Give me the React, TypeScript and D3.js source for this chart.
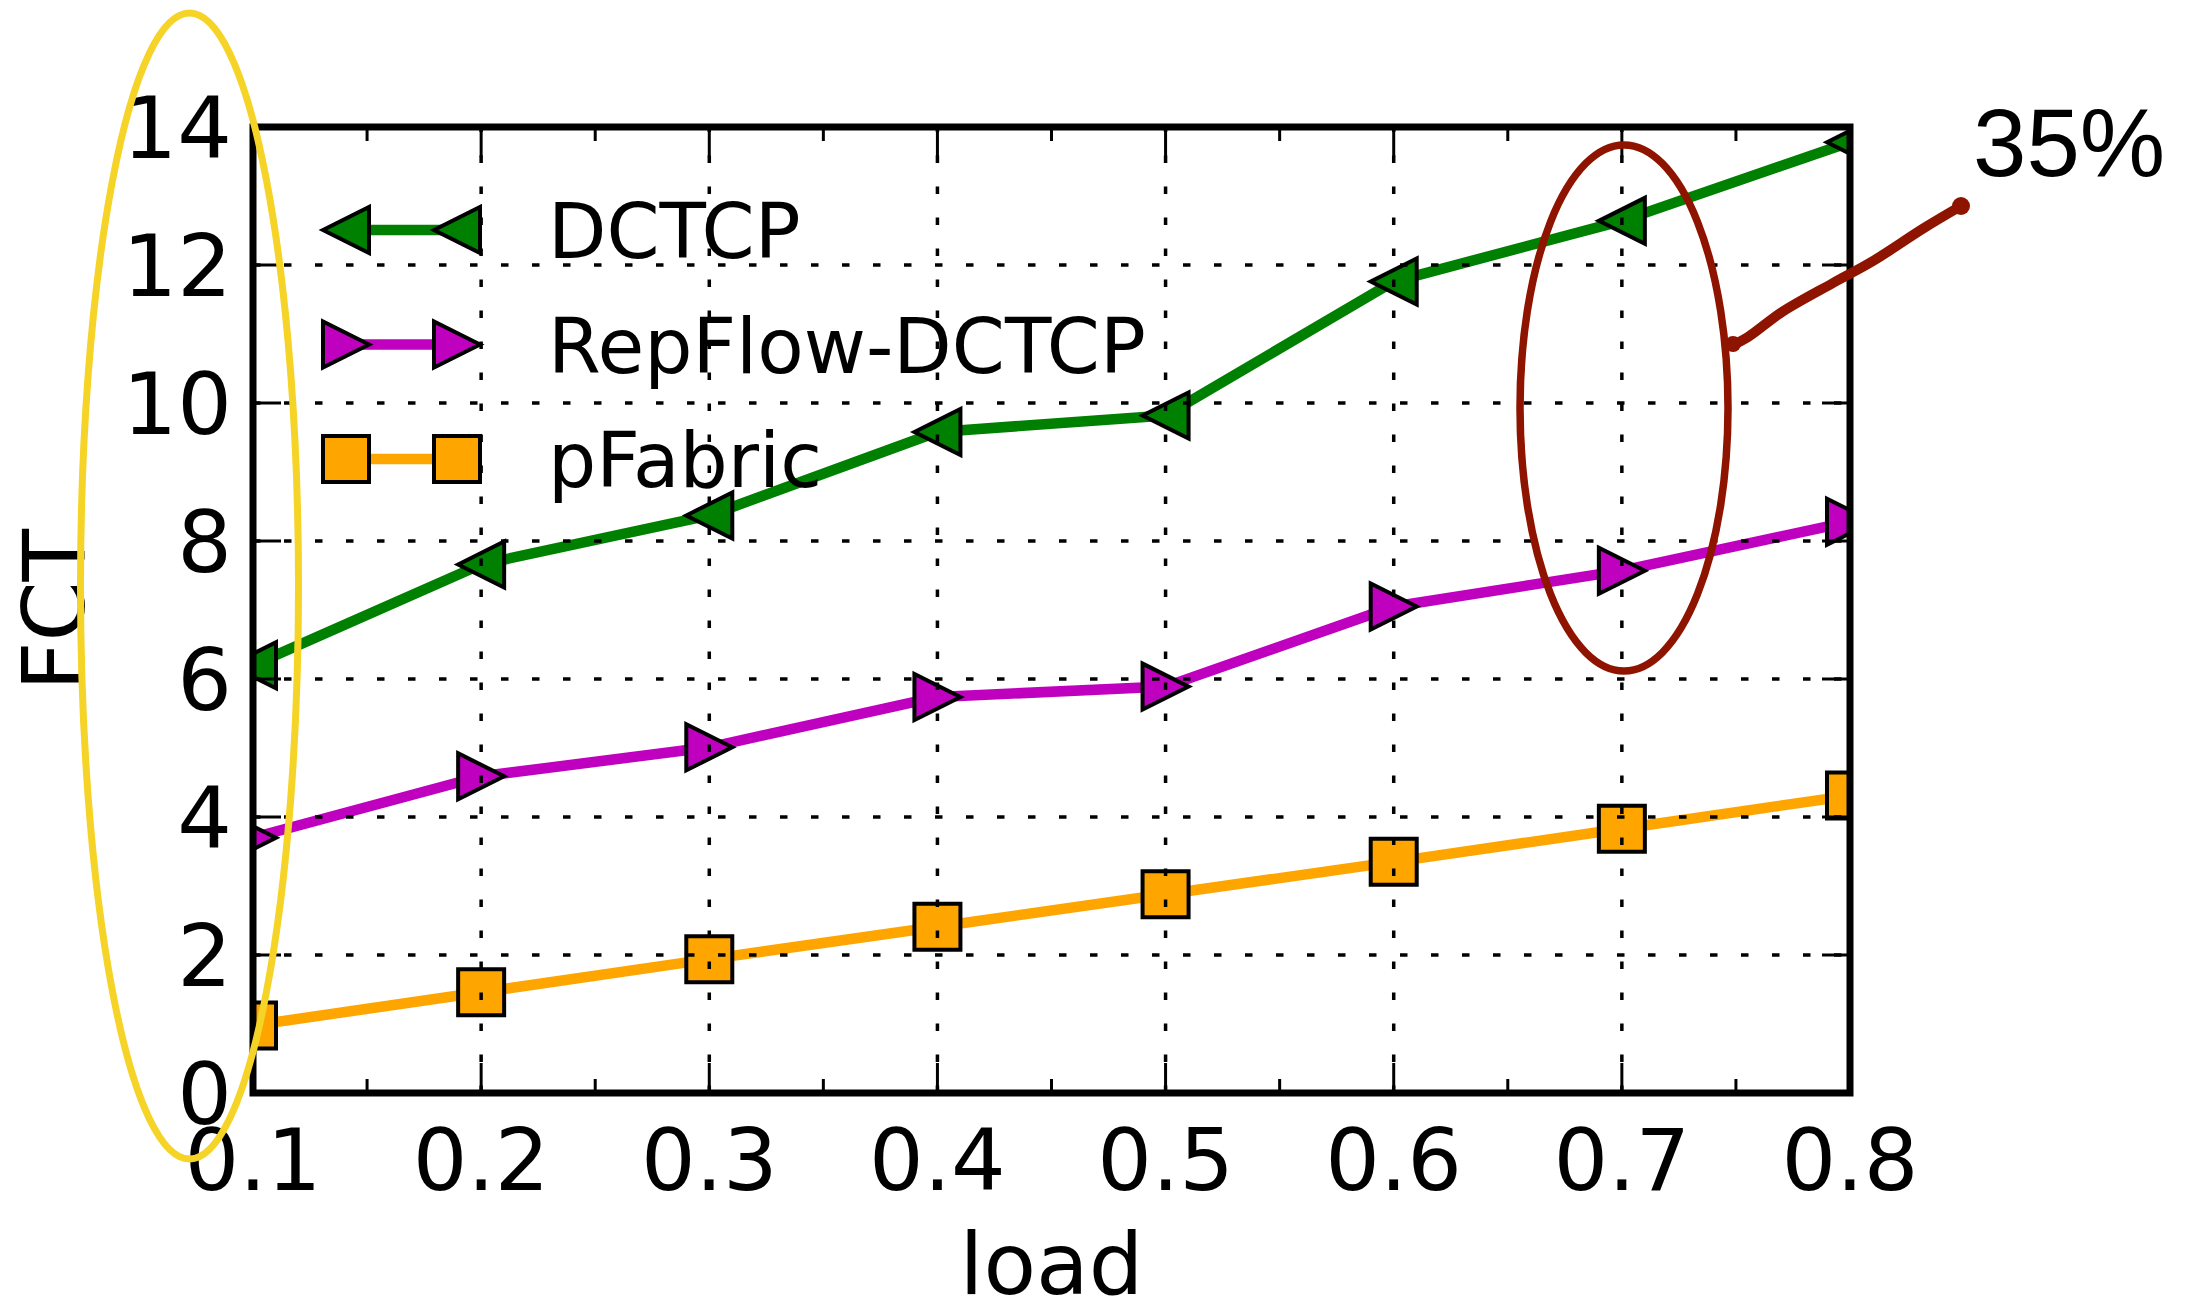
import React from 'react';
import * as d3 from 'd3';

// values
const loads = [0.1, 0.2, 0.3, 0.4, 0.5, 0.6, 0.7, 0.8];
const dctcp = [6.2, 7.66, 8.37, 9.58, 9.82, 11.76, 12.64, 13.78];
const repflowDctcp = [3.7, 4.59, 5.01, 5.74, 5.89, 7.05, 7.57, 8.28];
const pfabric = [0.98, 1.46, 1.94, 2.41, 2.88, 3.35, 3.83, 4.31];

const xTicks = [0.1, 0.2, 0.3, 0.4, 0.5, 0.6, 0.7, 0.8];
const xMinorTicks = [0.15, 0.25, 0.35, 0.45, 0.55, 0.65, 0.75];
const yTicks = [0, 2, 4, 6, 8, 10, 12, 14];

const seriesNames = ['DCTCP', 'RepFlow-DCTCP', 'pFabric'];
const seriesValues = [dctcp, repflowDctcp, pfabric];
const seriesColors = ['#008000', '#bf00bf', '#ffa500'];
const seriesMarkers = ['triLeft', 'triRight', 'square'];

const W = 2190;
const H = 1301;
const margin = { left: 253, right: W - 1850, top: 127, bottom: H - 1093 };
const font = 'DejaVu Sans, sans-serif';

const x = d3.scaleLinear().domain([0.1, 0.8]).range([margin.left, W - margin.right]);
const y = d3.scaleLinear().domain([0, 14]).range([H - margin.bottom, margin.top]);

const MS = 23; // half marker size

function markerPath(kind: string) {
  if (kind === 'triLeft') return `M${-MS},0L${MS},${-MS}L${MS},${MS}Z`;
  if (kind === 'triRight') return `M${MS},0L${-MS},${-MS}L${-MS},${MS}Z`;
  return `M${-MS},${-MS}H${MS}V${MS}H${-MS}Z`;
}

const pointerPts: [number, number][] = [
  [1731, 346], [1748, 337], [1782, 312], [1833, 283], [1873, 261], [1924, 228], [1961, 206],
];

export default function App() {
  const line = d3.line<number>().x((_, i) => x(loads[i])).y((d) => y(d));
  const pointer = d3.line().curve(d3.curveCatmullRom)(pointerPts) || '';
  const x0 = x.range()[0], x1 = x.range()[1];
  const y0 = y.range()[0], y1 = y.range()[1];

  return (
    <div>
      <style>{'body{margin:0}'}</style>
      <svg width={W} height={H} style={{ display: 'block', background: '#fff' }}>
        <defs>
          <clipPath id="plotClip">
            <rect x={x0} y={y1} width={x1 - x0} height={y0 - y1} />
          </clipPath>
        </defs>

        {/* data */}
        <g clipPath="url(#plotClip)">
          {seriesValues.map((vals, s) => (
            <g key={s}>
              <path d={line(vals) || ''} fill="none" stroke={seriesColors[s]} strokeWidth={10.5} strokeLinejoin="round" />
              {vals.map((v, i) => (
                <path key={i} d={markerPath(seriesMarkers[s])} transform={`translate(${x(loads[i])},${y(v)})`}
                  fill={seriesColors[s]} stroke="#000" strokeWidth={4} strokeLinejoin="miter" />
              ))}
            </g>
          ))}
        </g>

        {/* grid, drawn above the data */}
        <g stroke="#000" strokeWidth={3.5} strokeDasharray="7.5,23.5" fill="none">
          {xTicks.slice(1, -1).map((t) => (
            <line key={'gx' + t} x1={x(t)} x2={x(t)} y1={y0} y2={y1} />
          ))}
          {yTicks.slice(1, -1).map((t) => (
            <line key={'gy' + t} x1={x0} x2={x1} y1={y(t)} y2={y(t)} />
          ))}
        </g>

        {/* legend */}
        {seriesNames.map((name, s) => {
          const ly = 230 + s * 114.5;
          return (
            <g key={name}>
              <line x1={346} x2={457} y1={ly} y2={ly} stroke={seriesColors[s]} strokeWidth={10.5} />
              {[346, 457].map((lx) => (
                <path key={lx} d={markerPath(seriesMarkers[s])} transform={`translate(${lx},${ly})`}
                  fill={seriesColors[s]} stroke="#000" strokeWidth={4} />
              ))}
              <text x={548} y={ly + 28} fontFamily={font} fontSize={76} fill="#000">{name}</text>
            </g>
          );
        })}

        {/* ticks */}
        <g stroke="#000" strokeWidth={3}>
          {xTicks.map((t) => (
            <g key={'tx' + t}>
              <line x1={x(t)} x2={x(t)} y1={y0} y2={y0 - 30} />
              <line x1={x(t)} x2={x(t)} y1={y1} y2={y1 + 30} />
            </g>
          ))}
          {xMinorTicks.map((t) => (
            <g key={'mx' + t}>
              <line x1={x(t)} x2={x(t)} y1={y0} y2={y0 - 14} />
              <line x1={x(t)} x2={x(t)} y1={y1} y2={y1 + 14} />
            </g>
          ))}
          {yTicks.map((t) => (
            <g key={'ty' + t}>
              <line x1={x0} x2={x0 + 28} y1={y(t)} y2={y(t)} />
              <line x1={x1} x2={x1 - 28} y1={y(t)} y2={y(t)} />
            </g>
          ))}
        </g>

        {/* frame */}
        <rect x={x0} y={y1} width={x1 - x0} height={y0 - y1} fill="none" stroke="#000" strokeWidth={7} />

        {/* tick labels */}
        {xTicks.map((t) => (
          <text key={'lx' + t} x={x(t)} y={1190} textAnchor="middle" fontFamily={font} fontSize={86} fill="#000">
            {d3.format('.1f')(t)}
          </text>
        ))}
        {yTicks.map((t) => (
          <text key={'ly' + t} x={232} y={y(t) + 31} textAnchor="end" fontFamily={font} fontSize={86} fill="#000">
            {t}
          </text>
        ))}

        {/* axis titles */}
        <text x={(x0 + x1) / 2} y={1294} textAnchor="middle" fontFamily={font} fontSize={86} fill="#000">load</text>
        <text transform={`translate(84,${(y0 + y1) / 2}) rotate(-90)`} textAnchor="middle" fontFamily={font} fontSize={86} fill="#000">FCT</text>

        {/* hand-drawn annotations */}
        <ellipse cx={189.5} cy={586} rx={109} ry={573} fill="none" stroke="#f5d327" strokeWidth={7} />
        <ellipse cx={1624} cy={408} rx={104} ry={263} fill="none" stroke="#8f1400" strokeWidth={7.5} />
        <path d={pointer} fill="none" stroke="#8f1400" strokeWidth={10} strokeLinecap="round" />
        <circle cx={1961} cy={206} r={9} fill="#8f1400" />
        <circle cx={1733} cy={344} r={8} fill="#8f1400" />
        <text x={1973} y={176} fontFamily="Liberation Sans, Arial, sans-serif" fontSize={96} fill="#000">35%</text>
      </svg>
    </div>
  );
}
